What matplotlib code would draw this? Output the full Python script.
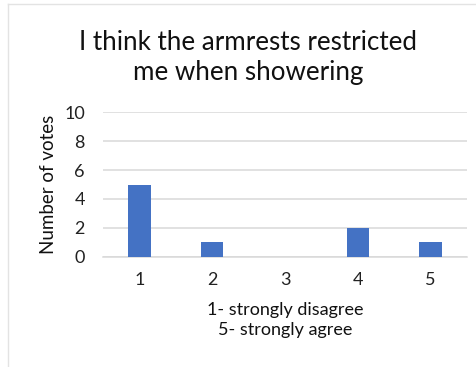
import matplotlib
matplotlib.use("Agg")
import matplotlib.pyplot as plt
from matplotlib.lines import Line2D

# Survey responses on a 1-5 agreement scale
categories = ["1", "2", "3", "4", "5"]
votes = [5, 1, 0, 2, 1]
y_ticks = [0, 2, 4, 6, 8, 10]

title = "I think the armrests restricted\nme when showering"
x_label = "1- strongly disagree\n5- strongly agree"
y_label = "Number of votes"

plt.rcParams["font.family"] = ["Lato", "DejaVu Sans"]

fig = plt.figure(figsize=(4.76, 3.67), dpi=100)
fig.patch.set_facecolor("white")

# Chart frame (top and left edges visible)
frame_color = "#e3e3e3"
fig.add_artist(Line2D([8 / 476, 1.0], [1 - 4 / 367, 1 - 4 / 367],
                      transform=fig.transFigure, color=frame_color, lw=1.0))
fig.add_artist(Line2D([8 / 476, 8 / 476], [0.0, 1 - 4 / 367],
                      transform=fig.transFigure, color=frame_color, lw=1.0))

ax = fig.add_axes([103 / 476, 1 - 256.7 / 367, 364 / 476, (256.7 - 112.3) / 367])

x = list(range(len(categories)))
ax.bar(x, votes, width=0.31, color="#4472C4", zorder=3)

ax.set_xlim(-0.5, len(categories) - 0.5)
ax.set_ylim(0, 10)
ax.set_yticks(y_ticks)
ax.set_xticks(x)
ax.set_xticklabels(categories)

ax.grid(axis="y", color="#d9d9d9", lw=1.1, zorder=0)
ax.set_axisbelow(True)
for side in ["top", "right", "left"]:
    ax.spines[side].set_visible(False)
ax.spines["bottom"].set_color("#d9d9d9")
ax.spines["bottom"].set_linewidth(1.1)

ax.tick_params(axis="both", length=0, labelsize=13, colors="#222222")
ax.tick_params(axis="y", pad=13)
ax.tick_params(axis="x", pad=11)

ax.set_ylabel(y_label, fontsize=13.5, color="#111111", labelpad=5)
ax.set_xlabel(x_label, fontsize=13, color="#111111", labelpad=10, linespacing=1.3)

fig.text(0.521, 1 - 57.5 / 367, title, ha="center", va="center",
         fontsize=18.7, color="#111111", linespacing=1.25)

fig.savefig("out.png", dpi=100, facecolor="white")
